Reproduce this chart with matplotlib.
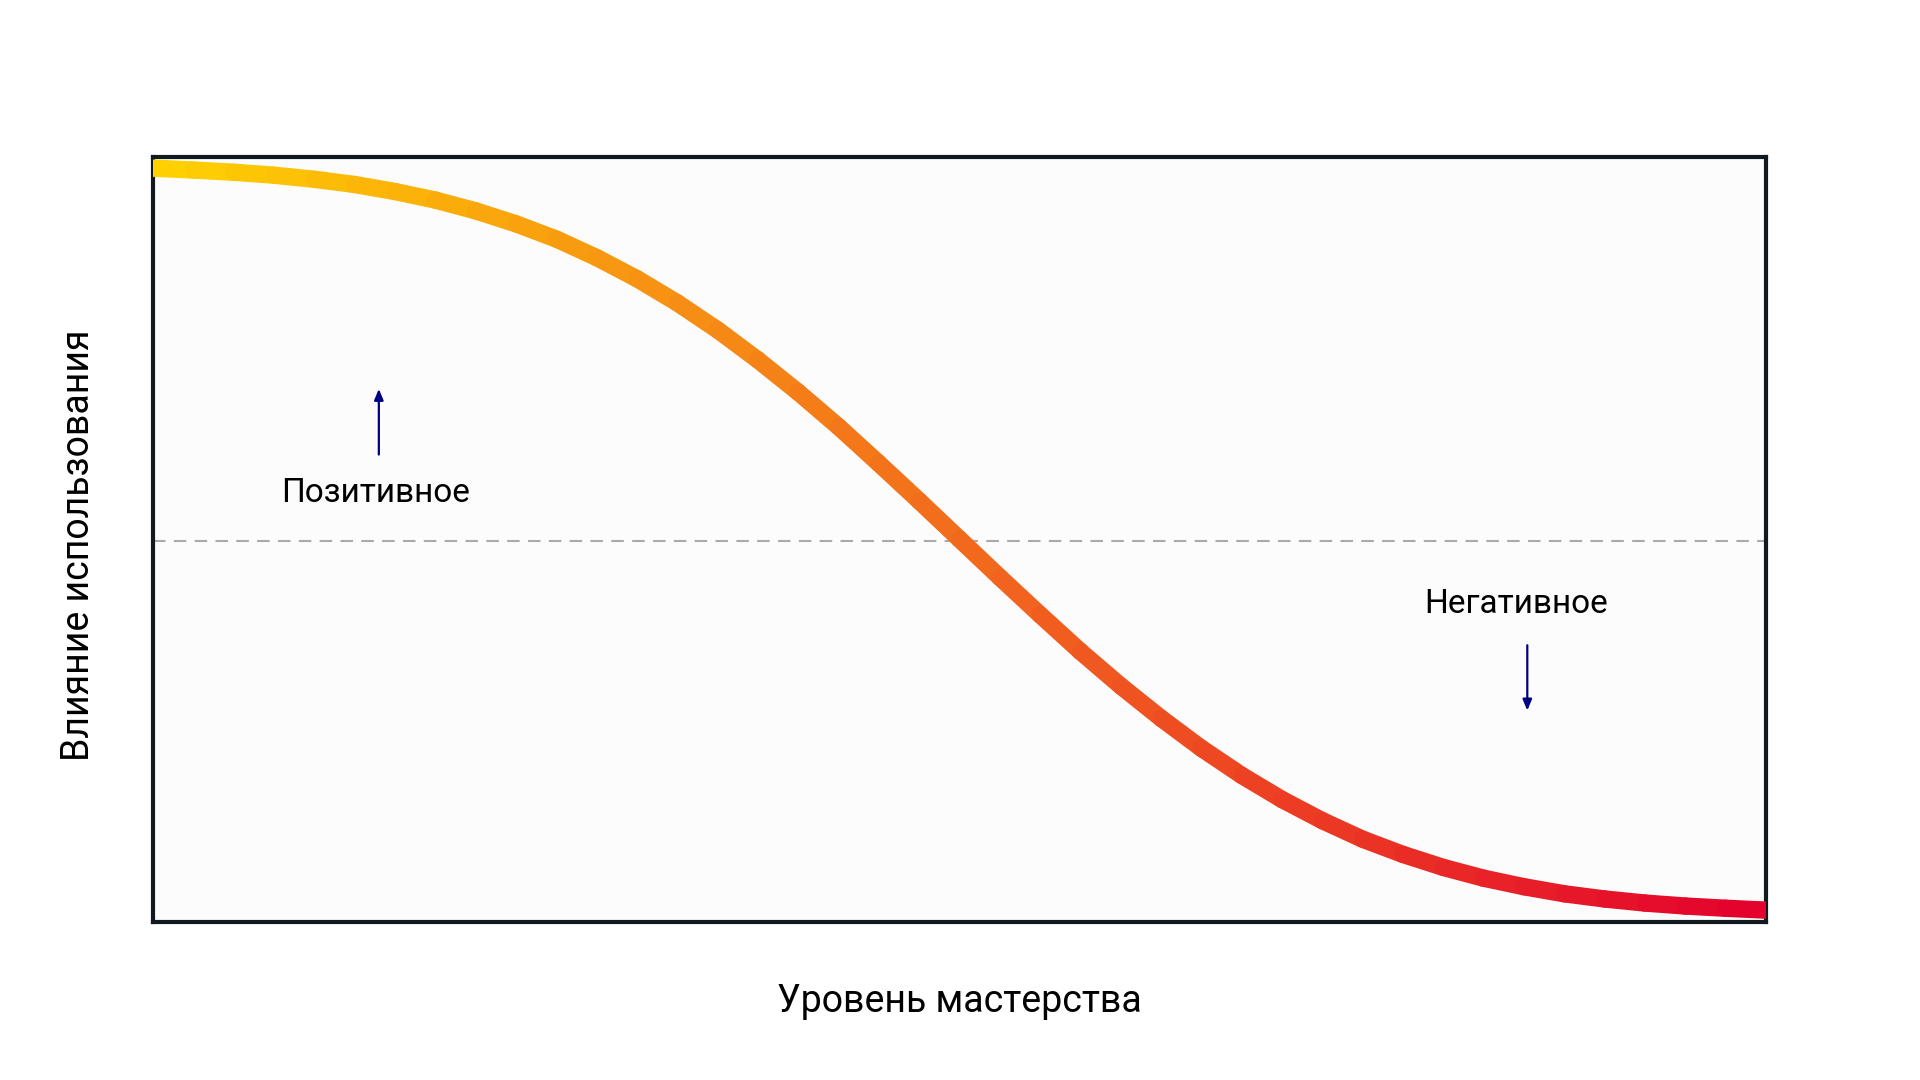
import numpy as np
import matplotlib.pyplot as plt
from matplotlib.collections import LineCollection
from matplotlib.colors import LinearSegmentedColormap

plt.rcParams['font.family'] = ['Roboto', 'DejaVu Sans']

# curve: mastery level (0..10) vs impact (-1..1)
mastery = [0, 0.25, 0.5, 0.75, 1.0, 1.25, 1.5, 1.75, 2.0, 2.25, 2.5, 2.75, 3.0, 3.25, 3.5, 3.75, 4.0,
           4.25, 4.5, 4.75, 5.0, 5.25, 5.5, 5.75, 6.0, 6.25, 6.5, 6.75, 7.0, 7.25, 7.5, 7.75, 8.0,
           8.25, 8.5, 8.75, 9.0, 9.25, 9.5, 9.75, 10.0]
impact = [1.0, 0.995, 0.989, 0.981, 0.970, 0.956, 0.937, 0.914, 0.885, 0.850, 0.809, 0.759, 0.702,
          0.637, 0.564, 0.483, 0.396, 0.303, 0.204, 0.103, 0.0, -0.103, -0.204, -0.303, -0.396,
          -0.483, -0.564, -0.637, -0.702, -0.759, -0.809, -0.850, -0.885, -0.914, -0.937, -0.956,
          -0.970, -0.981, -0.989, -0.995, -1.0]

x_label = 'Уровень мастерства'
y_label = 'Влияние использования'
pos_label = 'Позитивное'
neg_label = 'Негативное'

grad = LinearSegmentedColormap.from_list('skill', ['#FFD300', '#F26B1D', '#E3002D'])

fig = plt.figure(figsize=(19.2, 10.8), dpi=100)
ax = fig.add_axes([0.0797, 0.1463, 0.8401, 0.7083])
ax.set_facecolor('#fcfcfc')

pts = np.column_stack([mastery, impact])
segs = np.stack([pts[:-1], pts[1:]], axis=1)
mid = (np.array(mastery[:-1]) + np.array(mastery[1:])) / 2
lc = LineCollection(segs, colors=grad(mid / 10), linewidths=12.5, capstyle='round', zorder=3)
ax.add_collection(lc)

ax.axhline(-0.004, color='#aaaaaa', lw=1.5, dashes=(6, 4), zorder=2)

arrow = dict(arrowstyle='-|>,head_length=0.65,head_width=0.27', color='navy', lw=1.6,
             shrinkA=0, shrinkB=0)
ax.annotate('', xy=(1.4, 0.405), xytext=(1.4, 0.228), arrowprops=arrow)
ax.annotate('', xy=(8.52, -0.462), xytext=(8.52, -0.286), arrowprops=arrow)
ax.text(1.38, 0.124, pos_label, fontsize=24, ha='center', va='center', color='black')
ax.text(8.45, -0.175, neg_label, fontsize=24, ha='center', va='center', color='black')

ax.set_xlim(0, 10)
ax.set_ylim(-1.032, 1.03)
ax.set_xticks([])
ax.set_yticks([])
for s in ax.spines.values():
    s.set_linewidth(3)
    s.set_color('#121a21')

ax.set_xlabel(x_label, fontsize=27, va='center')
ax.xaxis.set_label_coords(0.5, -0.104)
ax.set_ylabel(y_label, fontsize=27, va='center')
ax.yaxis.set_label_coords(-0.0465, 0.493)

fig.savefig('out.png', dpi=100, facecolor='white')
